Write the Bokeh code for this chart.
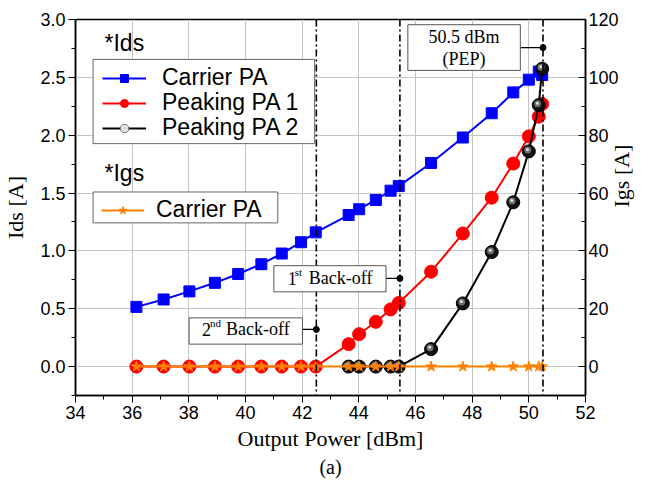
import math

from bokeh.plotting import figure
from bokeh.models import (Range1d, LinearAxis, FixedTicker, Span, Legend, LegendItem,
                          Label, BoxAnnotation, ColumnDataSource, PrintfTickFormatter, Title)
from bokeh.transform import dodge
from bokeh.embed import file_html
from bokeh.resources import INLINE

# ---- measured data -------------------------------------------------------
# output power sweep [dBm]
pout = [36.15, 37.11, 38.02, 38.92, 39.74, 40.56, 41.28, 41.96, 42.48, 43.64,
        44.01, 44.60, 45.12, 45.41, 46.55, 47.67, 48.69, 49.45, 50.00, 50.35, 50.47]
# drain currents [A]
ids_carrier = [0.516, 0.58, 0.65, 0.724, 0.80, 0.885, 0.977, 1.075, 1.16, 1.31,
               1.36, 1.44, 1.52, 1.56, 1.76, 1.98, 2.19, 2.37, 2.48, 2.55, 2.52]
ids_peak1 = [0.0, 0.0, 0.0, 0.0, 0.0, 0.0, 0.0, 0.0, 0.0, 0.194,
             0.28, 0.387, 0.494, 0.55, 0.82, 1.15, 1.46, 1.755, 1.99, 2.16, 2.27]
pout_peak2 = [43.64, 44.01, 44.60, 45.12, 45.41, 46.55, 47.67, 48.69, 49.45,
              50.00, 50.35, 50.47]
ids_peak2 = [0.0, 0.0, 0.0, 0.0, 0.0, 0.151, 0.546, 0.99, 1.42, 1.86, 2.26, 2.575]
# gate current of the carrier PA [A]
igs_carrier = [0.0, 0.0, 0.0, 0.0, 0.0, 0.0, 0.0, 0.0, 0.0, 0.0,
               0.0, 0.0, 0.0, 0.0, 0.0, 0.0, 0.0, 0.0, 0.0, 0.0, 0.0]

# back-off reference powers [dBm] and the height of their call-out dots [A]
backoff_power = [42.5, 45.45, 50.5]
backoff_mark = [0.321, 0.762, 2.757]

x_ticks = [34, 36, 38, 40, 42, 44, 46, 48, 50, 52]
y_ticks = [0.0, 0.5, 1.0, 1.5, 2.0, 2.5, 3.0]
igs_ticks = [0, 20, 40, 60, 80, 100, 120]

SANS = "Liberation Sans"
SERIF = "Liberation Serif"

p = figure(width=649, height=484, output_backend="svg", toolbar_location=None,
           x_range=Range1d(34, 52), y_range=Range1d(-0.25, 3.0),
           min_border_left=74, min_border_right=61, min_border_top=19,
           min_border_bottom=89)
p.extra_y_ranges = {"igs": Range1d(-10, 120)}
p.background_fill_color = "white"
p.border_fill_color = "white"
p.outline_line_color = "black"
p.outline_line_width = 1.5
p.outline_line_alpha = 1.0

# ---- axes ----------------------------------------------------------------
p.xaxis.ticker = FixedTicker(ticks=x_ticks, minor_ticks=[35, 37, 39, 41, 43, 45, 47, 49, 51])
p.yaxis.ticker = FixedTicker(ticks=y_ticks,
                             minor_ticks=[-0.25, 0.25, 0.75, 1.25, 1.75, 2.25, 2.75])
p.yaxis.formatter = PrintfTickFormatter(format="%.1f")

right = LinearAxis(y_range_name="igs",
                   ticker=FixedTicker(ticks=igs_ticks,
                                      minor_ticks=[-10, 10, 30, 50, 70, 90, 110]))
p.add_layout(right, "right")

for ax in (p.xaxis[0], p.yaxis[0], right):
    ax.axis_line_width = 1.5
    ax.axis_line_color = "black"
    ax.major_tick_line_color = "black"
    ax.minor_tick_line_color = "black"
    ax.major_tick_line_width = 1
    ax.minor_tick_line_width = 1
    ax.major_label_text_font = SANS
    ax.major_label_text_font_size = "18px"
    ax.major_label_text_color = "black"
    ax.axis_label_text_font = SERIF
    ax.axis_label_text_font_size = "22px"
    ax.axis_label_text_font_style = "normal"
    ax.axis_label_text_color = "black"

for ax in (p.xaxis[0], p.yaxis[0]):
    ax.major_tick_out = 7
    ax.major_tick_in = 0
    ax.minor_tick_out = 4
    ax.minor_tick_in = 0
right.major_tick_in = 7
right.major_tick_out = 0
right.minor_tick_in = 4
right.minor_tick_out = 0

p.xaxis.axis_label = "Output Power [dBm]"
p.xaxis.major_label_standoff = 3
p.xaxis.axis_label_standoff = 4
p.yaxis.axis_label = "Ids [A]"
p.yaxis.major_label_standoff = 3
p.yaxis.axis_label_standoff = 9
right.axis_label = "Igs [A]"
# read bottom-to-top, like the left axis title
right.axis_label_orientation = math.pi / 2
right.major_label_standoff = 3
right.axis_label_standoff = 0

p.xgrid.ticker = FixedTicker(ticks=x_ticks)
p.ygrid.ticker = FixedTicker(ticks=y_ticks)
for g in (p.xgrid[0], p.ygrid[0]):
    g.grid_line_color = "#c4c4c4"
    g.grid_line_width = 1

# panel caption under the x axis
p.add_layout(Title(text="(a)", align="center", text_font=SERIF, text_font_size="20px",
                   text_font_style="normal", text_color="black", standoff=0), "below")

# ---- back-off reference lines ---------------------------------------------
for bp in backoff_power:
    p.add_layout(Span(location=bp, dimension="height", line_color="black",
                      line_width=1.6, line_dash="7 3 2 3"))

# ---- series --------------------------------------------------------------
src_c = ColumnDataSource(dict(x=pout, y=ids_carrier))
src_p1 = ColumnDataSource(dict(x=pout, y=ids_peak1))
src_p2 = ColumnDataSource(dict(x=pout_peak2, y=ids_peak2))
src_g = ColumnDataSource(dict(x=pout, y=igs_carrier))

c_line = p.line("x", "y", source=src_c, line_color="#0000ff", line_width=2)
c_mark = p.scatter("x", "y", source=src_c, marker="square", size=11,
                   fill_color="#0000ff", line_color="#0000ff")

p1_line = p.line("x", "y", source=src_p1, line_color="#ff0000", line_width=2)
p1_mark = p.scatter("x", "y", source=src_p1, marker="circle", size=13,
                    fill_color="#ff0000", line_color="#ff0000")

p2_line = p.line("x", "y", source=src_p2, line_color="black", line_width=2)
p2_mark = p.scatter("x", "y", source=src_p2, marker="circle", size=13,
                    fill_color="#111111", line_color="black")
# shiny highlight on the black balls
p2_hl1 = p.scatter(dodge("x", -0.04, range=p.x_range), dodge("y", 0.012, range=p.y_range),
                   source=src_p2, marker="circle", size=7,
                   fill_color="#6e6e6e", line_color=None)
p2_hl2 = p.scatter(dodge("x", -0.05, range=p.x_range), dodge("y", 0.016, range=p.y_range),
                   source=src_p2, marker="circle", size=3,
                   fill_color="#e0e0e0", line_color=None)

g_line = p.line("x", "y", source=src_g, y_range_name="igs",
                line_color="#ff8000", line_width=2)
g_mark = p.scatter("x", "y", source=src_g, y_range_name="igs", marker="star",
                   size=11, fill_color="#ff8000", line_color="#ff8000")

# ---- back-off call-outs -----------------------------------------------------
# call-out boxes: (left, right, bottom, top) in data units
boxes = [(38.01, 42.01, 0.194, 0.421),
         (41.00, 44.96, 0.646, 0.872),
         (45.73, 49.70, 2.560, 2.955)]
for (l, r, b, t) in boxes:
    p.add_layout(BoxAnnotation(left=l, right=r, bottom=b, top=t,
                               fill_color="white", fill_alpha=1.0,
                               line_color="#555555", line_width=1, line_alpha=1.0))

lead = ColumnDataSource(dict(x0=[b[1] for b in boxes], x1=backoff_power,
                             y=backoff_mark))
p.segment(x0="x0", y0="y", x1="x1", y1="y", source=lead,
          line_color="black", line_width=1.2)
src_dot = ColumnDataSource(dict(x=backoff_power, y=backoff_mark))
p.scatter("x", "y", source=src_dot, marker="circle", size=6,
          fill_color="black", line_color="black")


def ordinal_label(left, h, num, sup, dx_num, dx_sup, dx_txt):
    p.add_layout(Label(x=left, y=h, x_offset=dx_num, text=num, text_font=SERIF,
                       text_font_size="18px", text_baseline="middle", text_color="black"))
    p.add_layout(Label(x=left, y=h, x_offset=dx_sup, y_offset=6, text=sup, text_font=SERIF,
                       text_font_size="11px", text_baseline="middle", text_color="black"))
    p.add_layout(Label(x=left, y=h, x_offset=dx_txt, text="Back-off", text_font=SERIF,
                       text_font_size="18px", text_baseline="middle", text_color="black"))


ordinal_label(boxes[0][0], backoff_mark[0], "2", "nd", 13, 21, 37)
ordinal_label(boxes[1][0], backoff_mark[1], "1", "st", 14, 21, 35)

pep_cx = (boxes[2][0] + boxes[2][1]) / 2
p.add_layout(Label(x=pep_cx, y=backoff_mark[2], y_offset=11, text="50.5 dBm",
                   text_font=SERIF, text_font_size="18px", text_align="center",
                   text_baseline="middle", text_color="black"))
p.add_layout(Label(x=pep_cx, y=backoff_mark[2], y_offset=-11, text="(PEP)",
                   text_font=SERIF, text_font_size="18px", text_align="center",
                   text_baseline="middle", text_color="black"))

# ---- legends -------------------------------------------------------------
# frames of the two legend blocks (data units)
p.add_layout(BoxAnnotation(left=34.62, right=42.44, bottom=1.927, top=2.655,
                           fill_color="white", fill_alpha=1.0, line_color="#666666",
                           line_width=1, line_alpha=1.0))
p.add_layout(BoxAnnotation(left=34.62, right=41.14, bottom=1.242, top=1.509,
                           fill_color="white", fill_alpha=1.0, line_color="#666666",
                           line_width=1, line_alpha=1.0))


def legend_row(label, renderers, loc, standoff=16, gw=44):
    lg = Legend(items=[LegendItem(label=label, renderers=renderers)], location=loc,
                label_text_font=SANS, label_text_font_size="23px",
                label_text_color="black", glyph_width=gw, glyph_height=20,
                label_standoff=standoff, padding=9, spacing=0, margin=0,
                border_line_alpha=0, background_fill_alpha=0)
    p.add_layout(lg, "center")


# drain-current entries (one row each, evenly stacked)
legend_row("Carrier PA", [c_line, c_mark], (18, 295))
legend_row("Peaking PA 1", [p1_line, p1_mark], (18, 270))
legend_row("Peaking PA 2", [p2_line, p2_mark, p2_hl1, p2_hl2], (18, 245))
# gate-current entry
legend_row("Carrier PA", [g_line, g_mark], (17, 163), standoff=12, gw=43)

p.add_layout(Label(x=29, y=353, x_units="screen", y_units="screen", text="*Ids",
                   text_font=SANS, text_font_size="23px", text_baseline="middle",
                   text_color="black"))
p.add_layout(Label(x=29, y=223, x_units="screen", y_units="screen", text="*Igs",
                   text_font=SANS, text_font_size="23px", text_baseline="middle",
                   text_color="black"))

open("out.html", "w").write(file_html(p, INLINE))
